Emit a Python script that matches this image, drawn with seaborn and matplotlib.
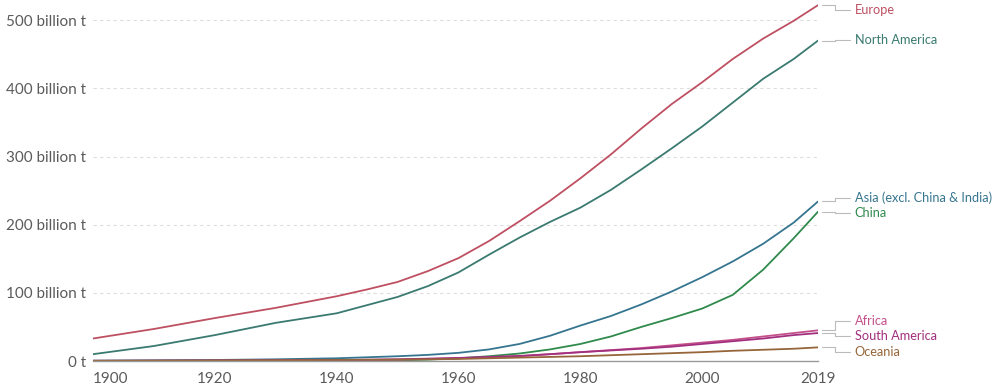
import pandas as pd
import matplotlib
matplotlib.use('Agg')
import matplotlib.pyplot as plt
import seaborn as sns


years = [1900, 1910, 1920, 1930, 1940, 1945, 1950, 1955, 1960, 1965, 1970,
         1975, 1980, 1985, 1990, 1995, 2000, 2005, 2010, 2015, 2019]

# cumulative CO2 emissions, billion tonnes
europe = [33, 47, 63, 78, 95, 105, 116, 132, 151, 176, 205,
          235, 268, 303, 341, 377, 409, 443, 473, 499, 522]
north_america = [10, 22, 38, 56, 70, 82, 94, 110, 130, 156, 181,
                 204, 225, 251, 281, 312, 344, 379, 414, 443, 470]
asia = [0.5, 1, 1.5, 2.5, 4, 5.5, 7, 9, 12, 17, 25,
        37, 52, 66, 83, 102, 123, 146, 172, 203, 234]
china = [0.1, 0.2, 0.3, 0.5, 0.7, 0.8, 1, 2, 4, 7, 11,
         17, 25, 36, 50, 63, 77, 97, 134, 180, 219]
africa = [0.2, 0.3, 0.5, 0.8, 1.2, 1.5, 2, 3, 4, 5.5, 7,
          10, 13, 16, 19, 23, 27, 31, 36, 41, 45]
south_america = [0.3, 0.5, 0.8, 1.1, 1.5, 2, 2.5, 3.5, 4.5, 6, 7.5,
                 10, 13, 15.5, 18, 21, 25, 29, 33, 38, 41]
oceania = [0.3, 0.5, 0.8, 1.1, 1.5, 1.8, 2, 2.5, 3, 4, 5,
           6, 7, 8.5, 10, 11.5, 13, 15, 16.5, 18, 20]

regions = ['Europe', 'North America', 'Asia (excl. China & India)', 'China',
           'Africa', 'South America', 'Oceania']
series = [europe, north_america, asia, china, africa, south_america, oceania]
colors = ['#be5062', '#3a7a70', '#367590', '#2f8a4c', '#c4508a', '#a2307f', '#96653a']

x_ticks = [1900, 1920, 1940, 1960, 1980, 2000, 2019]
y_ticks = [0, 100, 200, 300, 400, 500]

rows = []
for name, vals in zip(regions, series):
    for yr, v in zip(years, vals):
        rows.append({'year': yr, 'value': v, 'region': name})
df = pd.DataFrame(rows)

sns.set_style('white')
plt.rcParams['font.family'] = ['Lato', 'DejaVu Sans']

fig = plt.figure(figsize=(10, 3.91), dpi=100)
ax = fig.add_axes([0.093, 0.0767, 0.725, 0.9153])

sns.lineplot(data=df, x='year', y='value', hue='region',
             palette=dict(zip(regions, colors)), linewidth=1.3,
             legend=False, ax=ax)

ax.set_xlim(1900, 2019)
ax.set_ylim(0, 525)
ax.set_xlabel('')
ax.set_ylabel('')

for s in ['top', 'right', 'left']:
    ax.spines[s].set_visible(False)
ax.spines['bottom'].set_color('#999999')
ax.spines['bottom'].set_linewidth(1)

ax.set_xticks(x_ticks)
ax.set_xticklabels([str(t) for t in x_ticks])
ax.set_yticks(y_ticks)
ax.set_yticklabels(['0 t'] + [f'{t} billion t' for t in y_ticks[1:]])
ax.tick_params(axis='x', direction='out', length=5, color='#999999',
               labelsize=11, labelcolor='#5b5b5b', pad=3)
ax.tick_params(axis='y', length=0, labelsize=11, labelcolor='#5b5b5b', pad=5)
ax.get_xticklabels()[0].set_horizontalalignment('left')

for t in y_ticks[1:]:
    ax.axhline(t, color='#dddddd', linewidth=0.8, linestyle=(0, (3, 3)), zorder=0)

# end labels with connector lines
label_y = [515, 471, 239, 217, 59, 37, 13]
for name, vals, col, ly in zip(regions, series, colors, label_y):
    end = vals[-1]
    ax.plot([2019.6, 2021.8, 2021.8, 2024.3], [end, end, ly, ly],
            color='#bbbbbb', linewidth=0.8, clip_on=False)
    ax.text(2025.0, ly, name, color=col, fontsize=9.2, va='center', ha='left',
            clip_on=False)

fig.savefig('out.png', dpi=100)
